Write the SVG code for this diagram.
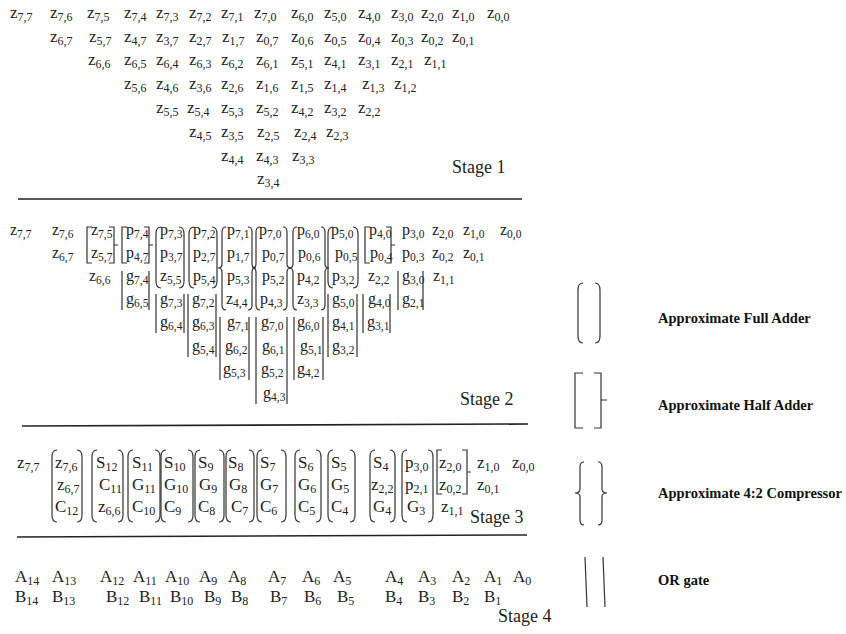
<svg xmlns="http://www.w3.org/2000/svg" width="846" height="634" viewBox="0 0 846 634">
<style>
.t text{font-family:"Liberation Serif","Times New Roman",serif;font-size:17px;fill:#222}
.t .s{font-size:12px}
.t2 text{font-size:16px}
.t2 .s{font-size:11.5px}
.t text.lbl{font-size:18px}
.lg text{font-family:"Liberation Serif","Times New Roman",serif;font-size:14.5px;font-weight:bold;fill:#111}
.br{fill:none;stroke:#333;stroke-width:1.2}
.sep{fill:none;stroke:#222;stroke-width:1.6}
</style>
<rect width="846" height="634" fill="#fff"/>

<g id="stage1" class="t">
<text x="10" y="18">z<tspan class="s" dy="3">7,7</tspan></text>
<text x="50" y="18">z<tspan class="s" dy="3">7,6</tspan></text>
<text x="87" y="18">z<tspan class="s" dy="3">7,5</tspan></text>
<text x="124" y="18">z<tspan class="s" dy="3">7,4</tspan></text>
<text x="156" y="18">z<tspan class="s" dy="3">7,3</tspan></text>
<text x="189" y="18">z<tspan class="s" dy="3">7,2</tspan></text>
<text x="221" y="18">z<tspan class="s" dy="3">7,1</tspan></text>
<text x="254" y="18">z<tspan class="s" dy="3">7,0</tspan></text>
<text x="291" y="18">z<tspan class="s" dy="3">6,0</tspan></text>
<text x="324" y="18">z<tspan class="s" dy="3">5,0</tspan></text>
<text x="358" y="18">z<tspan class="s" dy="3">4,0</tspan></text>
<text x="391" y="18">z<tspan class="s" dy="3">3,0</tspan></text>
<text x="421" y="18">z<tspan class="s" dy="3">2,0</tspan></text>
<text x="452" y="18">z<tspan class="s" dy="3">1,0</tspan></text>
<text x="487" y="18">z<tspan class="s" dy="3">0,0</tspan></text>

<text x="50" y="42">z<tspan class="s" dy="3">6,7</tspan></text>
<text x="89" y="42">z<tspan class="s" dy="3">5,7</tspan></text>
<text x="124" y="42">z<tspan class="s" dy="3">4,7</tspan></text>
<text x="156" y="42">z<tspan class="s" dy="3">3,7</tspan></text>
<text x="189" y="42">z<tspan class="s" dy="3">2,7</tspan></text>
<text x="222" y="42">z<tspan class="s" dy="3">1,7</tspan></text>
<text x="256" y="42">z<tspan class="s" dy="3">0,7</tspan></text>
<text x="291" y="42">z<tspan class="s" dy="3">0,6</tspan></text>
<text x="324" y="42">z<tspan class="s" dy="3">0,5</tspan></text>
<text x="358" y="42">z<tspan class="s" dy="3">0,4</tspan></text>
<text x="391" y="42">z<tspan class="s" dy="3">0,3</tspan></text>
<text x="421" y="42">z<tspan class="s" dy="3">0,2</tspan></text>
<text x="452" y="42">z<tspan class="s" dy="3">0,1</tspan></text>

<text x="88" y="65">z<tspan class="s" dy="3">6,6</tspan></text>
<text x="124" y="65">z<tspan class="s" dy="3">6,5</tspan></text>
<text x="156" y="65">z<tspan class="s" dy="3">6,4</tspan></text>
<text x="189" y="65">z<tspan class="s" dy="3">6,3</tspan></text>
<text x="221" y="65">z<tspan class="s" dy="3">6,2</tspan></text>
<text x="256" y="65">z<tspan class="s" dy="3">6,1</tspan></text>
<text x="291" y="65">z<tspan class="s" dy="3">5,1</tspan></text>
<text x="324" y="65">z<tspan class="s" dy="3">4,1</tspan></text>
<text x="358" y="65">z<tspan class="s" dy="3">3,1</tspan></text>
<text x="391" y="65">z<tspan class="s" dy="3">2,1</tspan></text>
<text x="424" y="65">z<tspan class="s" dy="3">1,1</tspan></text>

<text x="124" y="89">z<tspan class="s" dy="3">5,6</tspan></text>
<text x="156" y="89">z<tspan class="s" dy="3">4,6</tspan></text>
<text x="189" y="89">z<tspan class="s" dy="3">3,6</tspan></text>
<text x="221" y="89">z<tspan class="s" dy="3">2,6</tspan></text>
<text x="256" y="89">z<tspan class="s" dy="3">1,6</tspan></text>
<text x="291" y="89">z<tspan class="s" dy="3">1,5</tspan></text>
<text x="324" y="89">z<tspan class="s" dy="3">1,4</tspan></text>
<text x="362" y="89">z<tspan class="s" dy="3">1,3</tspan></text>
<text x="394" y="89">z<tspan class="s" dy="3">1,2</tspan></text>

<text x="156" y="113">z<tspan class="s" dy="3">5,5</tspan></text>
<text x="187" y="113">z<tspan class="s" dy="3">5,4</tspan></text>
<text x="221" y="113">z<tspan class="s" dy="3">5,3</tspan></text>
<text x="256" y="113">z<tspan class="s" dy="3">5,2</tspan></text>
<text x="291" y="113">z<tspan class="s" dy="3">4,2</tspan></text>
<text x="324" y="113">z<tspan class="s" dy="3">3,2</tspan></text>
<text x="358" y="113">z<tspan class="s" dy="3">2,2</tspan></text>

<text x="189" y="137">z<tspan class="s" dy="3">4,5</tspan></text>
<text x="221" y="137">z<tspan class="s" dy="3">3,5</tspan></text>
<text x="257" y="137">z<tspan class="s" dy="3">2,5</tspan></text>
<text x="294" y="137">z<tspan class="s" dy="3">2,4</tspan></text>
<text x="326" y="137">z<tspan class="s" dy="3">2,3</tspan></text>

<text x="221" y="161">z<tspan class="s" dy="3">4,4</tspan></text>
<text x="256" y="161">z<tspan class="s" dy="3">4,3</tspan></text>
<text x="292" y="161">z<tspan class="s" dy="3">3,3</tspan></text>

<text x="257" y="184">z<tspan class="s" dy="3">3,4</tspan></text>

<text class="lbl" x="452" y="173">Stage 1</text>
</g>

<g id="separators">
<path class="sep" d="M18 199H522"/>
<path class="sep" d="M22 426L528 424"/>
<path class="sep" d="M17 537L527 535"/>
</g>

<g id="stage2" class="t t2">
<text x="10" y="235">z<tspan class="s" dy="3">7,7</tspan></text>
<text x="52" y="235">z<tspan class="s" dy="3">7,6</tspan></text>
<text x="91" y="235">z<tspan class="s" dy="3">7,5</tspan></text>
<text x="126" y="235">p<tspan class="s" dy="3">7,4</tspan></text>
<text x="160" y="235">p<tspan class="s" dy="3">7,3</tspan></text>
<text x="193" y="235">p<tspan class="s" dy="3">7,2</tspan></text>
<text x="227" y="235">p<tspan class="s" dy="3">7,1</tspan></text>
<text x="259" y="235">p<tspan class="s" dy="3">7,0</tspan></text>
<text x="297" y="235">p<tspan class="s" dy="3">6,0</tspan></text>
<text x="331" y="235">p<tspan class="s" dy="3">5,0</tspan></text>
<text x="369" y="235">p<tspan class="s" dy="3">4,0</tspan></text>
<text x="402" y="235">p<tspan class="s" dy="3">3,0</tspan></text>
<text x="432" y="235">z<tspan class="s" dy="3">2,0</tspan></text>
<text x="463" y="235">z<tspan class="s" dy="3">1,0</tspan></text>
<text x="500" y="235">z<tspan class="s" dy="3">0,0</tspan></text>

<text x="52" y="258">z<tspan class="s" dy="3">6,7</tspan></text>
<text x="91" y="258">z<tspan class="s" dy="3">5,7</tspan></text>
<text x="126" y="258">p<tspan class="s" dy="3">4,7</tspan></text>
<text x="160" y="258">p<tspan class="s" dy="3">3,7</tspan></text>
<text x="193" y="258">p<tspan class="s" dy="3">2,7</tspan></text>
<text x="227" y="258">p<tspan class="s" dy="3">1,7</tspan></text>
<text x="262" y="258">p<tspan class="s" dy="3">0,7</tspan></text>
<text x="298" y="258">p<tspan class="s" dy="3">0,6</tspan></text>
<text x="335" y="258">p<tspan class="s" dy="3">0,5</tspan></text>
<text x="370" y="258">p<tspan class="s" dy="3">0,4</tspan></text>
<text x="402" y="258">p<tspan class="s" dy="3">0,3</tspan></text>
<text x="432" y="258">z<tspan class="s" dy="3">0,2</tspan></text>
<text x="463" y="258">z<tspan class="s" dy="3">0,1</tspan></text>

<text x="89" y="281">z<tspan class="s" dy="3">6,6</tspan></text>
<text x="126" y="281">g<tspan class="s" dy="3">7,4</tspan></text>
<text x="160" y="281">z<tspan class="s" dy="3">5,5</tspan></text>
<text x="193" y="281">p<tspan class="s" dy="3">5,4</tspan></text>
<text x="227" y="281">p<tspan class="s" dy="3">5,3</tspan></text>
<text x="262" y="281">p<tspan class="s" dy="3">5,2</tspan></text>
<text x="297" y="281">p<tspan class="s" dy="3">4,2</tspan></text>
<text x="332" y="281">p<tspan class="s" dy="3">3,2</tspan></text>
<text x="368" y="281">z<tspan class="s" dy="3">2,2</tspan></text>
<text x="402" y="281">g<tspan class="s" dy="3">3,0</tspan></text>
<text x="433" y="281">z<tspan class="s" dy="3">1,1</tspan></text>

<text x="126" y="304">g<tspan class="s" dy="3">6,5</tspan></text>
<text x="160" y="304">g<tspan class="s" dy="3">7,3</tspan></text>
<text x="192" y="304">g<tspan class="s" dy="3">7,2</tspan></text>
<text x="226" y="304">z<tspan class="s" dy="3">4,4</tspan></text>
<text x="260" y="304">p<tspan class="s" dy="3">4,3</tspan></text>
<text x="297" y="304">z<tspan class="s" dy="3">3,3</tspan></text>
<text x="332" y="304">g<tspan class="s" dy="3">5,0</tspan></text>
<text x="368" y="304">g<tspan class="s" dy="3">4,0</tspan></text>
<text x="402" y="304">g<tspan class="s" dy="3">2,1</tspan></text>

<text x="160" y="327">g<tspan class="s" dy="3">6,4</tspan></text>
<text x="192" y="327">g<tspan class="s" dy="3">6,3</tspan></text>
<text x="227" y="327">g<tspan class="s" dy="3">7,1</tspan></text>
<text x="261" y="327">g<tspan class="s" dy="3">7,0</tspan></text>
<text x="297" y="327">g<tspan class="s" dy="3">6,0</tspan></text>
<text x="332" y="327">g<tspan class="s" dy="3">4,1</tspan></text>
<text x="367" y="327">g<tspan class="s" dy="3">3,1</tspan></text>

<text x="192" y="351">g<tspan class="s" dy="3">5,4</tspan></text>
<text x="225" y="351">g<tspan class="s" dy="3">6,2</tspan></text>
<text x="262" y="351">g<tspan class="s" dy="3">6,1</tspan></text>
<text x="300" y="351">g<tspan class="s" dy="3">5,1</tspan></text>
<text x="332" y="351">g<tspan class="s" dy="3">3,2</tspan></text>

<text x="223" y="374">g<tspan class="s" dy="3">5,3</tspan></text>
<text x="261" y="374">g<tspan class="s" dy="3">5,2</tspan></text>
<text x="297" y="374">g<tspan class="s" dy="3">4,2</tspan></text>

<text x="263" y="398">g<tspan class="s" dy="3">4,3</tspan></text>

<text class="lbl" x="460" y="405">Stage 2</text>

<g id="stage2-brackets" class="br">
<path d="M92 227H87V263H92M109 227H114V263H109M114 245H118"/>
<path d="M127 227H122V263H127M144 227H149V263H144M149 245H153"/>
<path d="M122 271V310M149 271V310"/>
<path d="M161 227Q156 227 156 234V281Q156 288 161 288M179 227Q184 227 184 234V281Q184 288 179 288"/>
<path d="M156 294V333M184 294V333"/>
<path d="M194 227Q189 227 189 234V281Q189 288 194 288M212 227Q217 227 217 234V281Q217 288 212 288"/>
<path d="M188 294V357M216 294V357"/>
<path d="M226 227Q222 227 222 232V264Q222 268 218 268Q222 268 222 272V305Q222 310 226 310M248 227Q252 227 252 232V264Q252 268 256 268Q252 268 252 272V305Q252 310 248 310"/>
<path d="M220 317V380M249 317V380"/>
<path d="M260 227Q256 227 256 232V264Q256 268 252 268Q256 268 256 272V305Q256 310 260 310M283 227Q287 227 287 232V264Q287 268 291 268Q287 268 287 272V305Q287 310 283 310"/>
<path d="M256 317V404M287 317V404"/>
<path d="M297 227Q293 227 293 232V264Q293 268 289 268Q293 268 293 272V305Q293 310 297 310M321 227Q325 227 325 232V264Q325 268 329 268Q325 268 325 272V305Q325 310 321 310"/>
<path d="M294 317V380M323 317V380"/>
<path d="M333 227Q328 227 328 234V281Q328 288 333 288M353 227Q358 227 358 234V281Q358 288 353 288"/>
<path d="M328 294V357M357 294V357"/>
<path d="M370 227H365V263H370M386 227H391V263H386M391 245H395"/>
<path d="M363 294V333M390 294V333"/>
<path d="M398 271V310M423 271V310"/>
</g>
</g>

<g id="stage3" class="t">
<text x="17" y="468">z<tspan class="s" dy="3">7,7</tspan></text>
<text x="55" y="468">z<tspan class="s" dy="3">7,6</tspan></text>
<text x="57" y="490">z<tspan class="s" dy="3">6,7</tspan></text>
<text x="55" y="512">C<tspan class="s" dy="3">12</tspan></text>
<text x="96" y="468">S<tspan class="s" dy="3">12</tspan></text>
<text x="99" y="490">C<tspan class="s" dy="3">11</tspan></text>
<text x="98" y="512">z<tspan class="s" dy="3">6,6</tspan></text>
<text x="132" y="468">S<tspan class="s" dy="3">11</tspan></text>
<text x="132" y="490">G<tspan class="s" dy="3">11</tspan></text>
<text x="132" y="512">C<tspan class="s" dy="3">10</tspan></text>
<text x="164" y="468">S<tspan class="s" dy="3">10</tspan></text>
<text x="164" y="490">G<tspan class="s" dy="3">10</tspan></text>
<text x="164" y="512">C<tspan class="s" dy="3">9</tspan></text>
<text x="198" y="468">S<tspan class="s" dy="3">9</tspan></text>
<text x="199" y="490">G<tspan class="s" dy="3">9</tspan></text>
<text x="198" y="512">C<tspan class="s" dy="3">8</tspan></text>
<text x="228" y="468">S<tspan class="s" dy="3">8</tspan></text>
<text x="229" y="490">G<tspan class="s" dy="3">8</tspan></text>
<text x="231" y="512">C<tspan class="s" dy="3">7</tspan></text>
<text x="260" y="468">S<tspan class="s" dy="3">7</tspan></text>
<text x="260" y="490">G<tspan class="s" dy="3">7</tspan></text>
<text x="260" y="512">C<tspan class="s" dy="3">6</tspan></text>
<text x="298" y="468">S<tspan class="s" dy="3">6</tspan></text>
<text x="298" y="490">G<tspan class="s" dy="3">6</tspan></text>
<text x="298" y="512">C<tspan class="s" dy="3">5</tspan></text>
<text x="331" y="468">S<tspan class="s" dy="3">5</tspan></text>
<text x="331" y="490">G<tspan class="s" dy="3">5</tspan></text>
<text x="331" y="512">C<tspan class="s" dy="3">4</tspan></text>
<text x="373" y="468">S<tspan class="s" dy="3">4</tspan></text>
<text x="371" y="490">z<tspan class="s" dy="3">2,2</tspan></text>
<text x="373" y="512">G<tspan class="s" dy="3">4</tspan></text>
<text x="405" y="468">p<tspan class="s" dy="3">3,0</tspan></text>
<text x="405" y="490">p<tspan class="s" dy="3">2,1</tspan></text>
<text x="407" y="512">G<tspan class="s" dy="3">3</tspan></text>
<text x="439" y="468">z<tspan class="s" dy="3">2,0</tspan></text>
<text x="439" y="490">z<tspan class="s" dy="3">0,2</tspan></text>
<text x="441" y="512">z<tspan class="s" dy="3">1,1</tspan></text>
<text x="477" y="468">z<tspan class="s" dy="3">1,0</tspan></text>
<text x="477" y="490">z<tspan class="s" dy="3">0,1</tspan></text>
<text x="512" y="468">z<tspan class="s" dy="3">0,0</tspan></text>

<text class="lbl" x="470" y="523">Stage 3</text>

<g id="stage3-brackets" class="br">
<path d="M57 450Q52 450 52 457V515Q52 522 57 522M77 450Q82 450 82 457V515Q82 522 77 522"/>
<path d="M97 450Q92 450 92 457V515Q92 522 97 522M118 450Q123 450 123 457V515Q123 522 118 522"/>
<path d="M133 450Q128 450 128 457V515Q128 522 133 522M155 450Q160 450 160 457V515Q160 522 155 522"/>
<path d="M166 450Q161 450 161 457V515Q161 522 166 522M188 450Q193 450 193 457V515Q193 522 188 522"/>
<path d="M200 450Q195 450 195 457V515Q195 522 200 522M219 450Q224 450 224 457V515Q224 522 219 522"/>
<path d="M231 450Q226 450 226 457V515Q226 522 231 522M249 450Q254 450 254 457V515Q254 522 249 522"/>
<path d="M262 450Q257 450 257 457V515Q257 522 262 522M281 450Q286 450 286 457V515Q286 522 281 522"/>
<path d="M300 450Q295 450 295 457V515Q295 522 300 522M316 450Q321 450 321 457V515Q321 522 316 522"/>
<path d="M333 450Q328 450 328 457V515Q328 522 333 522M350 450Q355 450 355 457V515Q355 522 350 522"/>
<path d="M375 450Q370 450 370 457V515Q370 522 375 522M390 450Q395 450 395 457V515Q395 522 390 522"/>
<path d="M407 450Q402 450 402 457V515Q402 522 407 522M428 450Q433 450 433 457V515Q433 522 428 522"/>
<path d="M442 450H437V494H442M462 450H467V494H462M467 472H471"/>
</g>
</g>

<g id="stage4" class="t">
<text x="15" y="582">A<tspan class="s" dy="3">14</tspan></text>
<text x="52" y="582">A<tspan class="s" dy="3">13</tspan></text>
<text x="100" y="582">A<tspan class="s" dy="3">12</tspan></text>
<text x="133" y="582">A<tspan class="s" dy="3">11</tspan></text>
<text x="165" y="582">A<tspan class="s" dy="3">10</tspan></text>
<text x="199" y="582">A<tspan class="s" dy="3">9</tspan></text>
<text x="228" y="582">A<tspan class="s" dy="3">8</tspan></text>
<text x="268" y="582">A<tspan class="s" dy="3">7</tspan></text>
<text x="302" y="582">A<tspan class="s" dy="3">6</tspan></text>
<text x="333" y="582">A<tspan class="s" dy="3">5</tspan></text>
<text x="385" y="582">A<tspan class="s" dy="3">4</tspan></text>
<text x="418" y="582">A<tspan class="s" dy="3">3</tspan></text>
<text x="452" y="582">A<tspan class="s" dy="3">2</tspan></text>
<text x="484" y="582">A<tspan class="s" dy="3">1</tspan></text>
<text x="513" y="582">A<tspan class="s" dy="3">0</tspan></text>

<text x="15" y="602">B<tspan class="s" dy="3">14</tspan></text>
<text x="52" y="602">B<tspan class="s" dy="3">13</tspan></text>
<text x="106" y="602">B<tspan class="s" dy="3">12</tspan></text>
<text x="139" y="602">B<tspan class="s" dy="3">11</tspan></text>
<text x="170" y="602">B<tspan class="s" dy="3">10</tspan></text>
<text x="204" y="602">B<tspan class="s" dy="3">9</tspan></text>
<text x="231" y="602">B<tspan class="s" dy="3">8</tspan></text>
<text x="270" y="602">B<tspan class="s" dy="3">7</tspan></text>
<text x="304" y="602">B<tspan class="s" dy="3">6</tspan></text>
<text x="337" y="602">B<tspan class="s" dy="3">5</tspan></text>
<text x="385" y="602">B<tspan class="s" dy="3">4</tspan></text>
<text x="418" y="602">B<tspan class="s" dy="3">3</tspan></text>
<text x="452" y="602">B<tspan class="s" dy="3">2</tspan></text>
<text x="484" y="602">B<tspan class="s" dy="3">1</tspan></text>

<text class="lbl" x="498" y="622">Stage 4</text>
</g>

<g id="legend">
<g id="legend-fa">
<path class="br" d="M583 283Q578 283 578 290V336Q578 343 583 343M595 283Q600 283 600 290V336Q600 343 595 343"/>
<g class="lg"><text x="658" y="323">Approximate Full Adder</text></g>
</g>
<g id="legend-ha">
<path class="br" d="M583 373H575V428H583M594 373H601V428H594M601 400H607"/>
<g class="lg"><text x="658" y="410">Approximate Half Adder</text></g>
</g>
<g id="legend-comp">
<path class="br" d="M584 462Q580 462 580 467V489Q580 493 575 493Q580 493 580 497V520Q580 525 584 525M598 462Q602 462 602 467V489Q602 493 607 493Q602 493 602 497V520Q602 525 598 525"/>
<g class="lg"><text x="658" y="498">Approximate 4:2 Compressor</text></g>
</g>
<g id="legend-or">
<path class="br" d="M585 557L587 607M603 557L605 607"/>
<g class="lg"><text x="658" y="585">OR gate</text></g>
</g>
</g>
</svg>
